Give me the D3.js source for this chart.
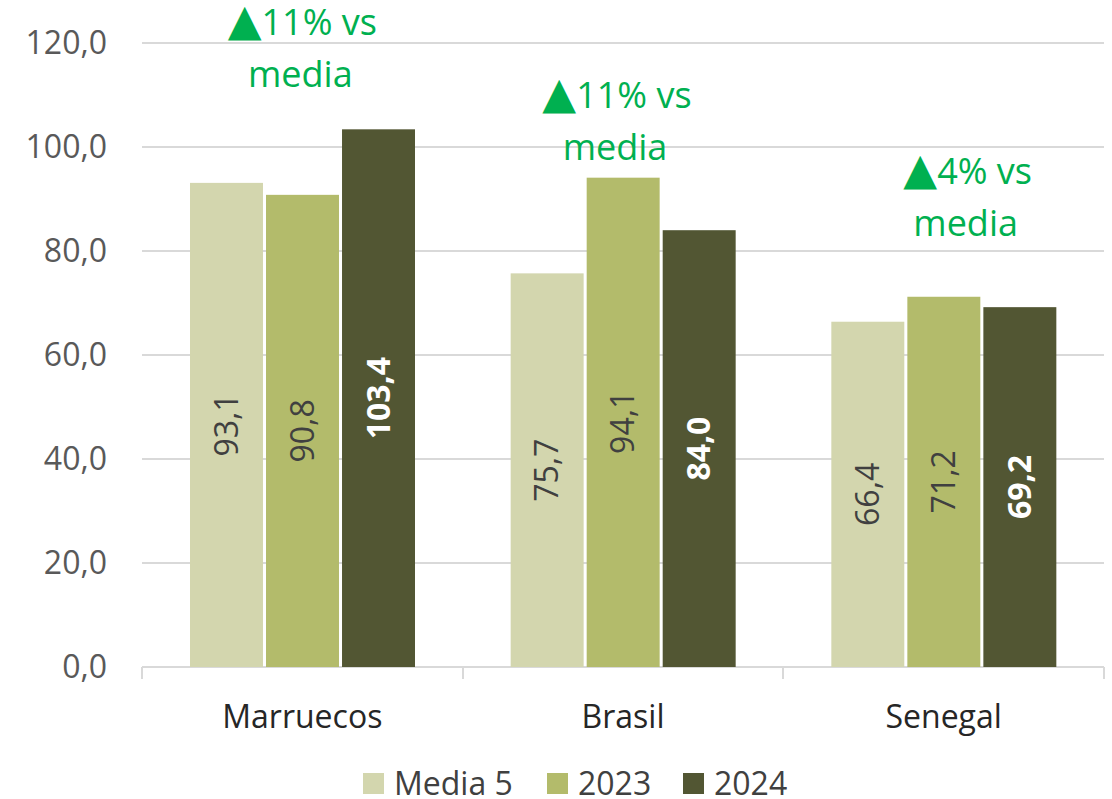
<!DOCTYPE html>
<html lang="es">
<head>
    <meta charset="UTF-8">
    <title>Marruecos, Brasil, Senegal</title>
    <style type="text/css">
        body {
            margin: 0;
            background-color: #fff;
            font-family: 'Open Sans', sans-serif;
        }
        .grid line {
            stroke: #d9d9d9;
            stroke-width: 2;
            shape-rendering: crispEdges;
        }
    </style>
</head>
<body>
<div id="chart"></div>
<script src="https://cdn.jsdelivr.net/npm/d3@7"></script>
<script type="text/javascript">
    var categories = ["Marruecos", "Brasil", "Senegal"];
    var series = ["Media 5", "2023", "2024"];
    var media5 = [93.1, 75.7, 66.4];
    var y2023 = [90.8, 94.1, 71.2];
    var y2024 = [103.4, 84.0, 69.2];
    var yTicks = [0, 20, 40, 60, 80, 100, 120];
    var notes = ["11% vs", "11% vs", "4% vs"];
    var noteY = [124, 110, 95.3];

    var colors = ["#d3d6ae", "#b3bb6b", "#525633"];

    var width = 1112, height = 799;
    var margin = {top: 43, right: 8, bottom: 132, left: 142};

    var x0 = d3.scaleBand()
        .domain(categories)
        .range([margin.left, width - margin.right]);

    var x1 = d3.scaleBand()
        .domain(series)
        .range([48, 273])
        .paddingInner(0.04);

    var y = d3.scaleLinear()
        .domain([0, 120])
        .range([height - margin.bottom, margin.top]);

    var svg = d3.select("#chart").append("svg")
        .attr("width", width)
        .attr("height", height);

    // gridlines
    svg.append("g")
        .attr("class", "grid")
        .selectAll("line")
        .data(yTicks)
        .enter().append("line")
        .attr("x1", margin.left)
        .attr("x2", width - margin.right)
        .attr("y1", function (d) { return y(d); })
        .attr("y2", function (d) { return y(d); });

    // tick marks on category axis
    var bounds = categories.map(function (c) { return x0(c); });
    bounds.push(x0(categories[categories.length - 1]) + x0.bandwidth());
    svg.append("g")
        .attr("class", "grid")
        .selectAll("line")
        .data(bounds)
        .enter().append("line")
        .attr("x1", function (d) { return Math.round(d); })
        .attr("x2", function (d) { return Math.round(d); })
        .attr("y1", y(0))
        .attr("y2", y(0) + 12);

    // y labels
    var fmt = function (d) { return d3.format(".1f")(d).replace(".", ","); };
    svg.append("g")
        .selectAll("text")
        .data(yTicks)
        .enter().append("text")
        .attr("x", 107)
        .attr("y", function (d) { return y(d); })
        .attr("dy", "0.35em")
        .attr("text-anchor", "end")
        .style("font-size", "32px")
        .style("fill", "#595959")
        .text(fmt);

    var rows = categories.map(function (c, i) {
        return {cat: c, values: [media5[i], y2023[i], y2024[i]]};
    });

    var groups = svg.selectAll(".cat")
        .data(rows)
        .enter().append("g")
        .attr("class", "cat")
        .attr("transform", function (d) { return "translate(" + x0(d.cat) + ",0)"; });

    var bars = groups.selectAll(".bar")
        .data(function (d) {
            return d.values.map(function (v, i) { return {s: series[i], v: v, i: i}; });
        })
        .enter().append("g")
        .attr("class", "bar");

    bars.append("rect")
        .attr("x", function (d) { return x1(d.s); })
        .attr("width", x1.bandwidth())
        .attr("y", function (d) { return y(d.v); })
        .attr("height", function (d) { return y(0) - y(d.v); })
        .style("fill", function (d) { return colors[d.i]; });

    bars.append("text")
        .attr("transform", function (d) {
            var cx = x1(d.s) + x1.bandwidth() / 2;
            var cy = (y(d.v) + y(0)) / 2;
            return "translate(" + cx + "," + cy + ") rotate(-90)";
        })
        .attr("text-anchor", "middle")
        .attr("dy", "0.35em")
        .style("font-size", "32px")
        .style("font-weight", function (d) { return d.i === 2 ? "bold" : "normal"; })
        .style("fill", function (d) { return d.i === 2 ? "#fff" : "#404040"; })
        .text(function (d) { return fmt(d.v); });

    // category labels
    svg.append("g")
        .selectAll("text")
        .data(categories)
        .enter().append("text")
        .attr("x", function (d) { return x0(d) + x0.bandwidth() / 2; })
        .attr("y", 717)
        .attr("dy", "0.35em")
        .attr("text-anchor", "middle")
        .style("font-size", "32px")
        .style("fill", "#262626")
        .text(function (d) { return d; });

    // annotations (two lines each, green triangle in front)
    var noteDx = [0, -6, 24];
    var line1 = svg.append("g")
        .selectAll("text")
        .data(categories)
        .enter().append("text")
        .attr("x", function (d, i) { return x0(d) + x0.bandwidth() / 2 + noteDx[i]; })
        .attr("y", function (d, i) { return y(noteY[i]); })
        .attr("dy", "0.35em")
        .attr("text-anchor", "middle")
        .style("font-size", "36px")
        .style("fill", "#00b050");
    line1.append("tspan")
        .style("font-family", "'DejaVu Sans', sans-serif")
        .style("font-size", "44px")
        .text("\u25B2");
    line1.append("tspan")
        .text(function (d, i) { return notes[i]; });

    svg.append("g")
        .selectAll("text")
        .data(categories)
        .enter().append("text")
        .attr("x", function (d, i) { return x0(d) + x0.bandwidth() / 2 + noteDx[i] - 2; })
        .attr("y", function (d, i) { return y(noteY[i]) + 52; })
        .attr("dy", "0.35em")
        .attr("text-anchor", "middle")
        .style("font-size", "36px")
        .style("fill", "#00b050")
        .text("media");

    // legend
    var legendX = [363, 547, 683];
    var legend = svg.append("g")
        .selectAll("g")
        .data(series)
        .enter().append("g")
        .attr("transform", function (d, i) { return "translate(" + legendX[i] + ",784)"; });
    legend.append("rect")
        .attr("x", 0)
        .attr("y", -11)
        .attr("width", 21)
        .attr("height", 21)
        .style("fill", function (d, i) { return colors[i]; });
    legend.append("text")
        .attr("x", 31)
        .attr("y", 0)
        .attr("dy", "0.35em")
        .style("font-size", "32px")
        .style("fill", "#404040")
        .text(function (d) { return d; });
</script>
</body>
</html>
